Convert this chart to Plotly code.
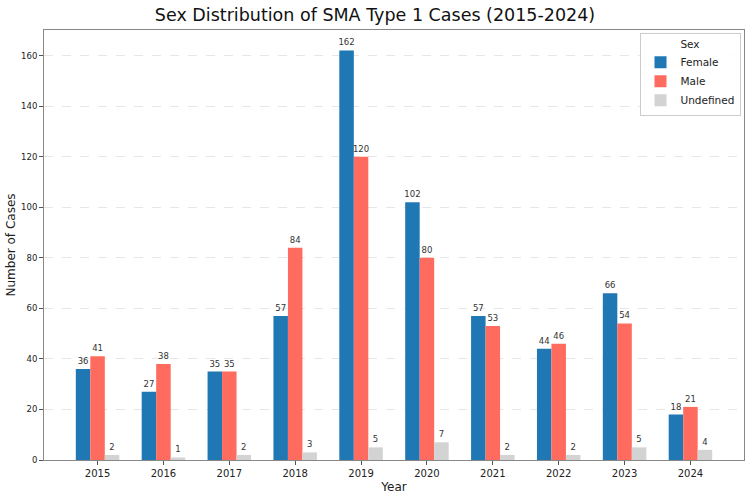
import plotly.graph_objects as go

years = [2015, 2016, 2017, 2018, 2019, 2020, 2021, 2022, 2023, 2024]
female = [36, 27, 35, 57, 162, 102, 57, 44, 66, 18]
male = [41, 38, 35, 84, 120, 80, 53, 46, 54, 21]
undefined = [2, 1, 2, 3, 5, 7, 2, 2, 5, 4]

series = [("Female", female, "#1f77b4"), ("Male", male, "#FF6B5E"), ("Undefined", undefined, "#D3D3D3")]
bw = 0.22
offsets = [-0.33, -0.11, 0.11]

fig = go.Figure()
for (name, vals, col), off in zip(series, offsets):
    fig.add_trace(go.Bar(
        x=years, y=vals, name=name, marker=dict(color=col, line=dict(width=0)),
        width=bw, offset=off, text=[str(v) for v in vals], textposition="outside",
        constraintext="none", textangle=0,
        textfont=dict(size=8.5, color="#333333"), cliponaxis=False,
    ))

fig.update_layout(
    width=750, height=498, barmode="overlay",
    margin=dict(l=44, r=6, t=30, b=38),
    paper_bgcolor="white", plot_bgcolor="white",
    font=dict(family="DejaVu Sans", color="#222222"),
    title=dict(text="Sex Distribution of SMA Type 1 Cases (2015-2024)", x=0.5, xanchor="center",
               y=0.97, yanchor="middle", font=dict(size=17.5, color="#111111")),
    legend=dict(x=0.995, y=0.993, xanchor="right", yanchor="top", bgcolor="rgba(255,255,255,0.9)",
                bordercolor="#cccccc", borderwidth=1, font=dict(size=10.5),
                title=dict(text="Sex", side="top center", font=dict(size=10.5)),
                itemwidth=30, tracegroupgap=0),
)
fig.update_xaxes(range=[2015 - 0.813, 2024 + 0.813], tickmode="array", tickvals=years,
                 ticktext=[str(y) for y in years], ticks="outside", ticklen=4, tickcolor="#555",
                 tickfont=dict(size=10), showgrid=False, showline=True, linecolor="#888", linewidth=1,
                 mirror=True, title=dict(text="Year", font=dict(size=12), standoff=4), zeroline=False)
fig.update_yaxes(range=[0, 170.1], dtick=20, ticks="outside", ticklen=4, tickcolor="#555",
                 tickfont=dict(size=8.5), showgrid=True, gridcolor="#e6e6e6", griddash="dash", gridwidth=1,
                 showline=True, linecolor="#888", linewidth=1, mirror=True, zeroline=False,
                 title=dict(text="Number of Cases", font=dict(size=12), standoff=2))

fig.write_html("out.html")
